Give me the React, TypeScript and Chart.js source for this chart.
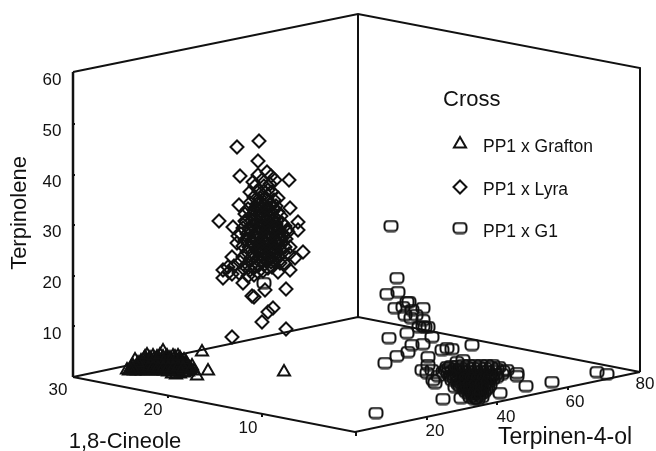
import React, { useEffect, useRef } from "react";
import { Chart, registerables } from "chart.js";

Chart.register(...registerables);

type P = [number, number];

const graftonPoints: P[] = [
  [127,370],[135,360],[163,351],[202,352],[208,371],[197,376],[284,372],
  [131,368],[136,369],[140,367],[145,369],[150,368],[155,369],[160,368],[165,370],[170,369],[175,370],[180,368],[185,369],[190,370],[194,371],
  [133,366],[138,365],[143,364],[148,365],[153,364],[158,365],[163,364],[168,365],[173,364],[178,365],[183,364],[188,366],[192,366],
  [141,361],[146,360],[151,361],[156,360],[161,361],[166,359],[171,361],[176,360],[181,361],[186,362],
  [145,357],[150,358],[157,357],[163,357],[170,358],[175,357],[180,358],
  [172,374],[176,375],[180,374],[168,372],[174,372],[184,373],[188,372],[129,371],[137,371],[147,371],[157,371],
  [142,366],[152,366],[162,366],[172,366],[182,366],[134,371],[142,371],[152,371],[162,371],[178,371],
  [148,362],[158,362],[168,362],[178,362],[146,367],[156,367],[166,367],[176,367],[186,367],
  [139,369],[144,370],[149,370],[154,370],[159,370],[164,371],[169,371],[174,369],[179,369],[184,370],[189,368],
  [135,368],[141,364],[146,363],[151,363],[156,363],[161,363],[166,363],[171,363],[176,363],[181,363],[186,364],
  [144,359],[149,360],[154,359],[159,359],[164,361],[169,360],[174,359],[179,360],[184,360],
  [137,367],[143,368],[148,368],[153,367],[158,368],[163,368],[168,368],[173,368],[178,367],[183,368],[191,369],
  [147,355],[153,356],[160,355],[167,356],[173,356],[178,356],[138,363],[133,369],[130,370],
];

const lyraPoints: P[] = [
  [237,147],[259,141],[258,161],[240,176],[267,172],[289,180],[258,175],[275,180],[271,176],[253,182],[278,198],[290,208],[239,205],[219,221],[298,222],[298,230],
  [268,190],[250,192],[245,221],[233,227],[238,236],[253,226],[277,220],[287,230],[303,252],[288,232],[232,257],[223,270],[223,278],[228,267],[237,243],
  [258,272],[243,283],[239,273],[278,272],[272,267],[280,263],[290,270],[295,258],[290,247],[265,290],[286,289],[252,296],[254,297],[273,308],[268,312],[262,322],[232,337],[286,329],
  [262,180],[255,186],[264,186],[270,184],[259,191],[265,193],[272,192],[254,197],[260,198],[267,199],[274,200],[250,203],[257,204],[263,205],[270,205],[276,206],
  [248,209],[254,210],[260,211],[266,210],[272,212],[278,212],[245,214],[251,216],[257,216],[263,217],[269,216],[275,218],[281,216],
  [246,222],[252,221],[258,222],[264,223],[270,222],[276,224],[282,223],[243,228],[249,228],[255,229],[261,228],[267,229],[273,228],[279,229],[285,226],
  [241,234],[247,234],[253,235],[259,234],[265,235],[271,234],[277,235],[283,234],[245,240],[251,241],[257,240],[263,241],[269,240],[275,241],[281,240],[286,239],
  [243,246],[249,247],[255,246],[261,247],[267,246],[273,247],[279,246],[285,247],[247,252],[253,253],[259,252],[265,253],[271,252],[277,253],[283,252],[289,254],
  [243,257],[251,258],[257,259],[263,258],[269,259],[275,258],[281,259],[240,262],[247,264],[253,264],[259,265],[265,264],[271,262],[285,264],
  [234,266],[244,269],[250,270],[255,267],[263,271],[268,268],[248,276],[254,275],[232,274],[229,272],
  [256,207],[261,208],[267,207],[273,208],[254,213],[260,214],[266,213],[272,215],[255,219],[261,220],[267,219],[273,221],[252,225],[258,226],[264,226],[270,226],[276,227],
  [250,231],[256,232],[262,231],[268,232],[274,231],[280,232],[254,237],[260,237],[266,238],[272,237],[278,238],[252,243],[258,244],[264,243],[270,244],[276,243],[282,243],
  [256,249],[262,250],[268,249],[274,250],[280,249],[260,255],[266,256],[272,255],[278,256],[262,261],[268,261],[274,261],
];

const g1Points: P[] = [
  [264,283],[391,226],[397,278],[398,292],[387,294],[395,308],[409,302],[403,307],[423,308],[405,315],[423,320],[425,327],[412,310],[407,302],[416,315],[411,318],
  [389,338],[407,333],[423,326],[419,327],[428,327],[432,337],[472,345],[447,348],[442,350],[452,349],[412,345],[423,344],[408,352],[397,356],[385,363],[428,357],[428,365],[422,370],[432,370],[427,373],
  [463,360],[457,362],[447,367],[433,380],[435,383],[455,387],[443,399],[461,398],[500,393],[526,386],[552,382],[597,372],[607,374],[517,373],[517,376],[507,370],[376,413],
  [449,368],[455,369],[461,368],[467,367],[473,368],[479,367],[485,368],[491,367],[497,369],[503,371],
  [448,373],[454,375],[460,374],[466,375],[472,374],[478,375],[484,374],[490,375],[496,374],
  [452,380],[458,381],[464,380],[470,381],[476,380],[482,381],[488,380],[493,379],
  [460,386],[466,387],[472,386],[478,387],[484,386],[490,385],
  [466,392],[472,393],[478,392],[484,392],[470,397],[476,398],[482,397],[443,372],[438,376],
  [452,371],[458,371],[464,371],[470,371],[476,371],[482,371],[488,371],[494,371],[457,377],[463,377],[469,377],[475,377],[481,377],[487,377],[492,376],
  [461,383],[467,383],[473,383],[479,383],[485,383],[468,389],[474,389],[480,389],[486,389],[473,395],[479,395],
  [451,366],[457,366],[463,365],[469,365],[475,365],[481,365],[487,365],[493,365],[499,367],[446,370],[450,376],[454,378],[459,379],[466,379],[472,379],[478,379],[484,379],[490,378],[497,377],[502,374],
  [458,384],[464,385],[470,385],[476,385],[482,385],[488,383],[464,389],[470,391],[476,391],[482,390],[488,388],[469,394],[475,393],[481,394],[474,399],[478,399],
];

const legendLabels = ["PP1 x Grafton", "PP1 x Lyra", "PP1 x G1"];
const legendTitle = "Cross";
const legendMarkers: P[] = [[460,144],[460,187],[460,228]];
const legendTextPos: P[] = [[483,147],[483,190],[483,232]];

const leftEdge: P[] = [[73,377],[73,72]];
const boxEdges: P[][] = [
  [[73,72],[358,14],[640,68],[640,372]],
  [[358,14],[358,317]],
  [[73,377],[358,317],[640,372]],
  [[73,377],[355,432],[640,372]],
];
const tickMarks: P[][] = [
  [[73,124],[75,124]],[[73,175],[75,175]],[[73,225],[75,225]],[[73,276],[75,276]],[[73,326],[75,326]],
  [[168,395],[168,398]],[[262,414],[262,417]],[[356,432],[356,436]],
  [[427,417],[427,420]],[[497,402],[497,405]],[[568,387],[568,390]],
];

const zTickLabels = ["60","50","40","30","20","10"];
const zTickPos: P[] = [[52,80],[52,131],[52,182],[52,232],[52,283],[52,334]];
const cineoleTickLabels = ["30","20","10"];
const cineoleTickPos: P[] = [[58,390],[153,410],[248,428]];
const terpinenTickLabels = ["20","40","60","80"];
const terpinenTickPos: P[] = [[435,431],[506,417],[575,402],[645,384]];

const INK = "#111111";
const FONT = '"Liberation Sans", Arial, sans-serif';

function roundedBox(): HTMLCanvasElement {
  const c = document.createElement("canvas");
  c.width = 16; c.height = 13;
  const g = c.getContext("2d")!;
  g.strokeStyle = INK; g.lineWidth = 2;
  g.beginPath();
  g.roundRect(1.5, 1.5, 13, 10, 3.5);
  g.stroke();
  return c;
}

const toXY = (pts: P[]) => pts.map(([x, y]) => ({ x, y }));

const textPlugin = {
  id: "figureText",
  afterDatasetsDraw(chart: any) {
    const { ctx, scales: { x, y } } = chart;
    const put = (s: string, p: P, size: number, align: CanvasTextAlign = "center", rot = 0) => {
      ctx.save();
      ctx.translate(x.getPixelForValue(p[0]), y.getPixelForValue(p[1]));
      ctx.rotate(rot);
      ctx.font = `${size}px ${FONT}`;
      ctx.fillStyle = INK;
      ctx.textAlign = align;
      ctx.textBaseline = "middle";
      ctx.fillText(s, 0, 0);
      ctx.restore();
    };
    zTickLabels.forEach((s, i) => put(s, zTickPos[i], 17));
    cineoleTickLabels.forEach((s, i) => put(s, cineoleTickPos[i], 17));
    terpinenTickLabels.forEach((s, i) => put(s, terpinenTickPos[i], 17));
    put("Terpinolene", [20, 213], 22, "center", -Math.PI / 2);
    put("1,8-Cineole", [125, 442], 22);
    put("Terpinen-4-ol", [565, 438], 23);
    put(legendTitle, [443, 100], 22, "left");
    legendLabels.forEach((s, i) => put(s, legendTextPos[i], 17.5, "left"));
  },
};

export default function App() {
  const ref = useRef<HTMLCanvasElement>(null);
  useEffect(() => {
    const box = roundedBox();
    const series = (label: string, pts: P[], style: any, radius: number) => ({
      label,
      data: toXY(pts),
      pointStyle: style,
      pointRadius: radius,
      pointBorderWidth: 2,
      pointBorderColor: INK,
      pointBackgroundColor: "transparent",
      showLine: false,
      order: 1,
    });
    const line = (seg: P[], i: number, width: number) => ({
      label: `frame ${i}`,
      data: toXY(seg),
      showLine: true,
      borderColor: INK,
      borderWidth: width,
      pointRadius: 0,
      order: 5,
    });
    const chart = new Chart(ref.current!, {
      type: "scatter",
      data: {
        datasets: [
          line(leftEdge, 99, 2.5),
          ...[...boxEdges, ...tickMarks].map((seg, i) => line(seg, i, 2)),
          series(legendLabels[0], graftonPoints, "triangle", 7),
          series(legendLabels[1], lyraPoints, "rectRot", 6.5),
          series(legendLabels[2], g1Points, box, 6),
          series("key Grafton", [legendMarkers[0]], "triangle", 7),
          series("key Lyra", [legendMarkers[1]], "rectRot", 6.5),
          series("key G1", [legendMarkers[2]], box, 6),
        ] as any,
      },
      options: {
        animation: false,
        responsive: false,
        layout: { padding: 0, autoPadding: false },
        plugins: { legend: { display: false }, tooltip: { enabled: false } },
        scales: {
          x: { type: "linear", min: 0, max: 656, display: false },
          y: { type: "linear", min: 0, max: 451, reverse: true, display: false },
        },
      },
      plugins: [textPlugin],
    });
    return () => chart.destroy();
  }, []);
  return (
    <div style={{ position: "fixed", left: 0, top: 0, width: 656, height: 451, background: "#fff" }}>
      <canvas ref={ref} width={656} height={451} style={{ display: "block" }} />
    </div>
  );
}
